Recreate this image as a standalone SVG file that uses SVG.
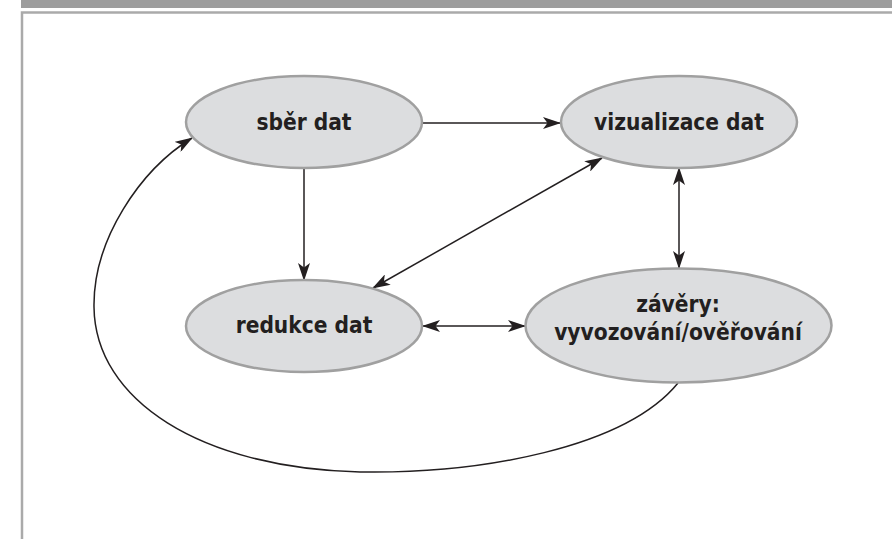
<svg xmlns="http://www.w3.org/2000/svg" width="892" height="539" viewBox="0 0 892 539">
  <style>
    .node ellipse { fill: #dcdddf; stroke: #a0a0a0; stroke-width: 2.5; }
    .node text { font-family: "DejaVu Sans Condensed", "DejaVu Sans", sans-serif; font-stretch: condensed; font-weight: bold; font-size: 22.5px; fill: #231f20; text-anchor: middle; }
    .edge { fill: none; stroke: #231f20; stroke-width: 1.5; }
  </style>
  <defs>
    <marker id="arrow" viewBox="0 0 18 12" refX="17" refY="6" markerWidth="18" markerHeight="12" markerUnits="userSpaceOnUse" orient="auto-start-reverse">
      <path d="M0,0 L18,6 L0,12 L4.5,6 z" fill="#231f20"/>
    </marker>
  </defs>

  <!-- page frame -->
  <rect x="21" y="0" width="871" height="8" fill="#9d9d9d"/>
  <path d="M22,539 V12.5 H892" fill="none" stroke="#aaaaaa" stroke-width="2.5"/>

  <!-- connectors -->
  <g id="connectors">
    <path class="edge" d="M422,123 H560" marker-end="url(#arrow)"/>
    <path class="edge" d="M304,168 V280" marker-end="url(#arrow)"/>
    <path class="edge" d="M602,158 L373,288" marker-start="url(#arrow)" marker-end="url(#arrow)"/>
    <path class="edge" d="M679,168 V268" marker-start="url(#arrow)" marker-end="url(#arrow)"/>
    <path class="edge" d="M423,326 H525" marker-start="url(#arrow)" marker-end="url(#arrow)"/>
    <path class="edge" d="M678,383 C625,448 480,474 360,472 C200,468 95,400 94,307 C93,240 140,170 192,138" marker-end="url(#arrow)"/>
  </g>

  <!-- nodes -->
  <g id="sber" class="node">
    <ellipse cx="304" cy="122" rx="118" ry="46"/>
    <text x="304" y="130">sběr dat</text>
  </g>
  <g id="vizualizace" class="node">
    <ellipse cx="679" cy="122" rx="118" ry="46"/>
    <text x="679" y="130">vizualizace dat</text>
  </g>
  <g id="redukce" class="node">
    <ellipse cx="304" cy="326" rx="118" ry="46"/>
    <text x="304" y="333">redukce dat</text>
  </g>
  <g id="zavery" class="node">
    <ellipse cx="678.5" cy="325.5" rx="153" ry="57"/>
    <text x="678" y="312">závěry:</text>
    <text x="678" y="340">vyvozování/ověřování</text>
  </g>
</svg>
